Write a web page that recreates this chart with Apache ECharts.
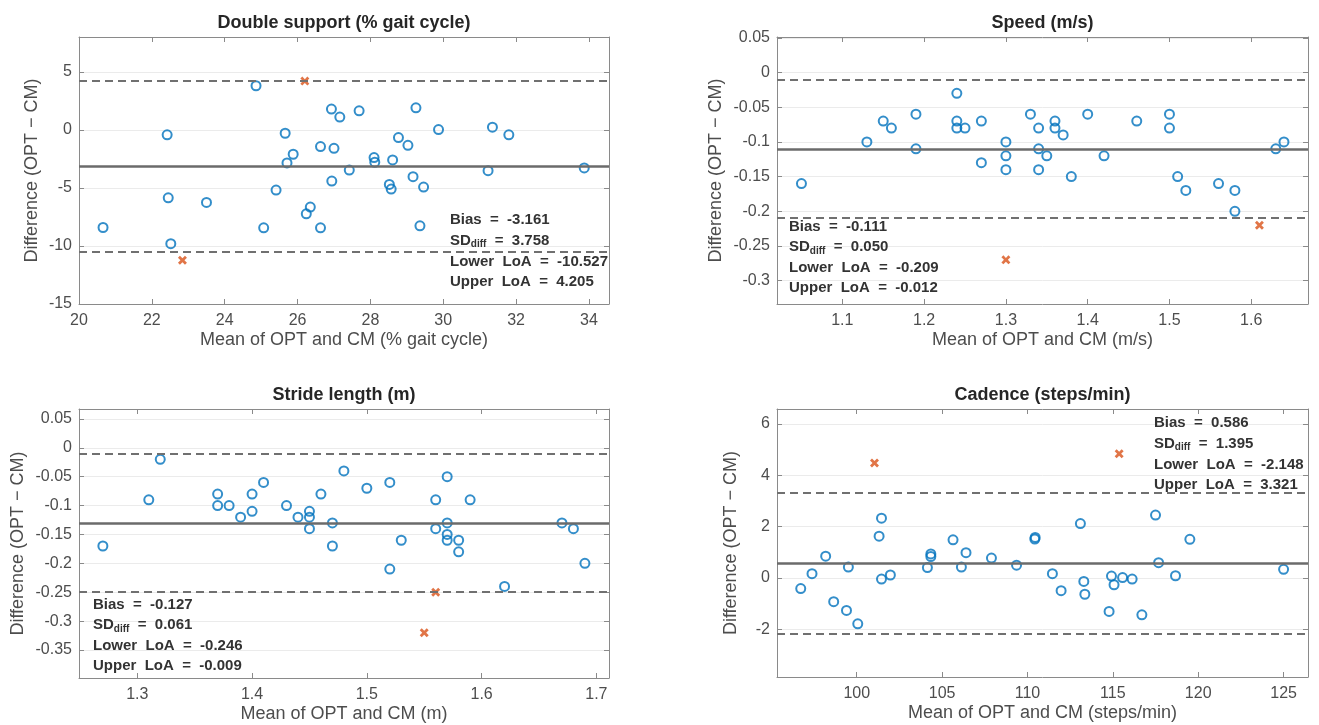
<!DOCTYPE html>
<html><head><meta charset="utf-8">
<script src="https://cdn.jsdelivr.net/npm/echarts@6/dist/echarts.min.js"></script>
<style>html,body{margin:0;padding:0;background:#fff}#c{width:1319px;height:725px}</style>
</head><body><div id="c"></div>
<script>
// ---------- Panel 1: Double support ----------
const dsX = [20.66, 22.42, 22.45, 22.52, 23.5, 24.86, 25.07, 25.41, 25.66, 25.71, 25.88, 26.24, 26.35, 26.63, 26.63, 26.93, 26.94, 27.0, 27.16, 27.42, 27.69, 28.1, 28.12, 28.52, 28.57, 28.61, 28.77, 29.03, 29.17, 29.25, 29.36, 29.46, 29.87, 31.23, 31.35, 31.8, 33.87];
const dsY = [-8.41, -0.43, -5.85, -9.8, -6.25, 3.8, -8.44, -5.19, -0.29, -2.85, -2.1, -7.23, -6.65, -1.44, -8.44, 1.79, -4.41, -1.59, 1.1, -3.46, 1.64, -2.39, -2.79, -4.7, -5.1, -2.59, -0.66, -1.33, -4.03, 1.9, -8.27, -4.93, 0.03, -3.52, 0.23, -0.43, -3.28];
const dsOutX = [22.84, 26.2];
const dsOutY = [-11.24, 4.2];
const dsStats = [-3.161, 3.758, -10.527, 4.205];
const dsXTicks = [20, 22, 24, 26, 28, 30, 32, 34];
const dsYTicks = [-15, -10, -5, 0, 5];

// ---------- Panel 2: Speed ----------
const spX = [1.05, 1.13, 1.15, 1.16, 1.19, 1.19, 1.24, 1.24, 1.24, 1.25, 1.27, 1.27, 1.30, 1.30, 1.30, 1.33, 1.34, 1.34, 1.34, 1.35, 1.36, 1.36, 1.37, 1.38, 1.40, 1.42, 1.46, 1.50, 1.50, 1.51, 1.52, 1.56, 1.58, 1.58, 1.63, 1.64];
const spY = [-0.16, -0.10, -0.07, -0.08, -0.06, -0.11, -0.03, -0.07, -0.08, -0.08, -0.07, -0.13, -0.10, -0.12, -0.14, -0.06, -0.08, -0.11, -0.14, -0.12, -0.07, -0.08, -0.09, -0.15, -0.06, -0.12, -0.07, -0.06, -0.08, -0.15, -0.17, -0.16, -0.17, -0.20, -0.11, -0.10];
const spOutX = [1.30, 1.61];
const spOutY = [-0.27, -0.22];
const spStats = [-0.111, 0.050, -0.209, -0.012];
const spXTicks = [1.1, 1.2, 1.3, 1.4, 1.5, 1.6];
const spYTicks = [-0.3, -0.25, -0.2, -0.15, -0.1, -0.05, 0, 0.05];

// ---------- Panel 3: Stride length ----------
const slX = [1.27, 1.31, 1.32, 1.37, 1.37, 1.38, 1.39, 1.40, 1.40, 1.41, 1.43, 1.44, 1.45, 1.45, 1.45, 1.46, 1.47, 1.47, 1.48, 1.50, 1.52, 1.52, 1.53, 1.56, 1.56, 1.57, 1.57, 1.57, 1.57, 1.58, 1.58, 1.59, 1.62, 1.67, 1.68, 1.69];
const slY = [-0.17, -0.09, -0.02, -0.08, -0.10, -0.10, -0.12, -0.08, -0.11, -0.06, -0.10, -0.12, -0.11, -0.12, -0.14, -0.08, -0.13, -0.17, -0.04, -0.07, -0.06, -0.21, -0.16, -0.09, -0.14, -0.05, -0.13, -0.15, -0.16, -0.16, -0.18, -0.09, -0.24, -0.13, -0.14, -0.20];
const slOutX = [1.55, 1.56];
const slOutY = [-0.32, -0.25];
const slStats = [-0.127, 0.061, -0.246, -0.009];
const slXTicks = [1.3, 1.4, 1.5, 1.6, 1.7];
const slYTicks = [-0.35, -0.3, -0.25, -0.2, -0.15, -0.1, -0.05, 0, 0.05];

// ---------- Panel 4: Cadence ----------
const cdX = [96.72, 97.38, 98.18, 98.65, 99.4, 99.51, 100.06, 101.31, 101.45, 101.45, 101.97, 104.14, 104.34, 104.34, 105.64, 106.13, 106.4, 107.89, 109.36, 110.43, 110.45, 111.46, 111.97, 113.1, 113.3, 113.36, 114.78, 114.92, 115.07, 115.57, 116.13, 116.7, 117.5, 117.68, 118.67, 119.51, 125.0];
const cdY = [-0.41, 0.17, 0.85, -0.92, -1.26, 0.43, -1.78, 1.63, 2.33, -0.04, 0.12, 0.41, 0.94, 0.84, 1.49, 0.43, 0.99, 0.78, 0.50, 1.52, 1.58, 0.17, -0.49, 2.12, -0.13, -0.63, -1.30, 0.08, -0.26, 0.02, -0.04, -1.43, 2.45, 0.60, 0.09, 1.51, 0.34];
const cdOutX = [101.04, 115.37];
const cdOutY = [4.48, 4.84];
const cdStats = [0.586, 1.395, -2.148, 3.321];
const cdXTicks = [100, 105, 110, 115, 120, 125];
const cdYTicks = [-2, 0, 2, 4, 6];

const titles = ['Double support (% gait cycle)', 'Speed (m/s)', 'Stride length (m)', 'Cadence (steps/min)'];
const xNames = ['Mean of OPT and CM (% gait cycle)', 'Mean of OPT and CM (m/s)', 'Mean of OPT and CM (m)', 'Mean of OPT and CM (steps/min)'];
const yName = 'Difference (OPT \u2212 CM)';

const FONT = '"Liberation Sans", Arial, Helvetica, sans-serif';
const panels = [
  {g:{left:79, top:37, width:530, height:267}, xr:[20, 34.55], yr:[-15, 8], xt:dsXTicks, yt:dsYTicks, x:dsX, y:dsY, ox:dsOutX, oy:dsOutY, st:dsStats, yGap:38, tTop:14, txt:{x:450, y:[221.5, 242, 263, 283.5]}},
  {g:{left:777, top:37, width:531, height:267}, xr:[1.0201, 1.6694], yr:[-0.3336, 0.0512], xt:spXTicks, yt:spYTicks, x:spX, y:spY, ox:spOutX, oy:spOutY, st:spStats, yGap:52, tTop:14, txt:{x:789, y:[228, 248.5, 269, 289.5]}},
  {g:{left:79, top:409, width:530, height:269}, xr:[1.2492, 1.711], yr:[-0.3985, 0.0672], xt:slXTicks, yt:slYTicks, x:slX, y:slY, ox:slOutX, oy:slOutY, st:slStats, yGap:52, tTop:386, txt:{x:93, y:[606, 626.5, 647.5, 667.5]}},
  {g:{left:777, top:409, width:531, height:268}, xr:[95.33, 126.43], yr:[-3.85, 6.58], xt:cdXTicks, yt:cdYTicks, x:cdX, y:cdY, ox:cdOutX, oy:cdOutY, st:cdStats, yGap:37, tTop:386, txt:{x:1154, y:[424.5, 445, 466, 486.5]}}
];

const fmt = v => String(+(+v).toFixed(4));
const TICKC = '#4d4d4d';
const BOXC = '#8a8a8a';
const XSYM = 'path://M2.2,0 L5,2.8 L7.8,0 L10,2.2 L7.2,5 L10,7.8 L7.8,10 L5,7.2 L2.2,10 L0,7.8 L2.8,5 L0,2.2 Z';

const grid = [], xAxis = [], yAxis = [], series = [], title = [], graphic = [];
panels.forEach((p, i) => {
  grid.push(Object.assign({show:false, containLabel:false, outerBoundsMode:'none'}, p.g));
  title.push({text: titles[i], left: p.g.left + p.g.width / 2, top: p.tTop, textAlign: 'center', padding: 0,
    textStyle: {fontFamily: FONT, fontSize: 18, fontWeight: 'bold', color: '#262626'}});
  const axLine = {show: true, onZero: false, lineStyle: {color: BOXC, width: 1}};
  const tick = (vals) => ({show: true, inside: true, length: 5, customValues: vals, lineStyle: {color: BOXC, width: 1}});
  // bottom x (labels)
  xAxis.push({type: 'value', gridIndex: i, position: 'bottom', min: p.xr[0], max: p.xr[1],
    axisLine: axLine, axisTick: tick(p.xt), splitLine: {show: false},
    axisLabel: {customValues: p.xt, formatter: fmt, color: TICKC, fontFamily: FONT, fontSize: 16, margin: 9},
    name: xNames[i], nameLocation: 'middle', nameGap: 27,
    nameTextStyle: {fontFamily: FONT, fontSize: 18, color: TICKC}});
  // top x (box + ticks)
  xAxis.push({type: 'value', gridIndex: i, position: 'top', min: p.xr[0], max: p.xr[1],
    axisLine: axLine, axisTick: tick(p.xt), axisLabel: {show: false}, splitLine: {show: false}});
  // left y
  yAxis.push({type: 'value', gridIndex: i, position: 'left', min: p.yr[0], max: p.yr[1],
    axisLine: axLine, axisTick: tick(p.yt),
    splitLine: {show: true, lineStyle: {color: '#ebebeb', width: 1}},
    axisLabel: {customValues: p.yt, formatter: fmt, color: TICKC, fontFamily: FONT, fontSize: 16, margin: 7},
    name: yName, nameLocation: 'middle', nameGap: p.yGap, nameRotate: 90,
    nameTextStyle: {fontFamily: FONT, fontSize: 18, color: TICKC}});
  // right y
  yAxis.push({type: 'value', gridIndex: i, position: 'right', min: p.yr[0], max: p.yr[1],
    axisLine: axLine, axisTick: tick(p.yt), axisLabel: {show: false}, splitLine: {show: false}});

  // reference lines
  series.push({type: 'scatter', xAxisIndex: 2 * i, yAxisIndex: 2 * i, data: [], z: 1, silent: true,
    markLine: {silent: true, symbol: ['none', 'none'], label: {show: false}, animation: false,
      data: [
        {yAxis: p.st[0], lineStyle: {type: 'solid', color: '#6b6b6b', width: 2.5}},
        {yAxis: p.st[2], lineStyle: {type: [8, 5], color: '#707070', width: 2}},
        {yAxis: p.st[3], lineStyle: {type: [8, 5], color: '#707070', width: 2}}
      ]}});
  // points
  series.push({type: 'scatter', xAxisIndex: 2 * i, yAxisIndex: 2 * i, z: 3, symbol: 'circle', symbolSize: 9,
    itemStyle: {color: 'rgba(0,0,0,0)', borderColor: '#0072BD', borderWidth: 2},
    data: p.x.map((v, k) => [v, p.y[k]])});
  // outliers
  series.push({type: 'scatter', xAxisIndex: 2 * i, yAxisIndex: 2 * i, z: 4, symbol: XSYM, symbolSize: 9,
    itemStyle: {color: '#D95319'},
    data: p.ox.map((v, k) => [v, p.oy[k]])});

  // stats text
  const lines = [
    {text: 'Bias  =  ' + p.st[0].toFixed(3)},
    {text: '{a|SD}{s|diff}{a|  =  ' + p.st[1].toFixed(3) + '}', rich: true},
    {text: 'Lower  LoA  =  ' + p.st[2].toFixed(3)},
    {text: 'Upper  LoA  =  ' + p.st[3].toFixed(3)}
  ];
  lines.forEach((ln, k) => {
    const style = {text: ln.text, x: 0, y: 0, font: 'bold 15px ' + FONT, fill: '#333', verticalAlign: 'middle', align: 'left'};
    if (ln.rich) {
      style.rich = {
        a: {fontFamily: FONT, fontSize: 15, fontWeight: 'bold', fill: '#333', color: '#333', lineHeight: 18},
        s: {fontFamily: FONT, fontSize: 10, fontWeight: 'bold', fill: '#333', color: '#333', lineHeight: 9, verticalAlign: 'bottom'}
      };
    }
    graphic.push({type: 'text', left: p.txt.x, top: p.txt.y[k] - 9, z: 10, style: style});
  });
});

const chart = echarts.init(document.getElementById('c'), null, {renderer: 'canvas'});
chart.setOption({animation: false, backgroundColor: '#fff', title, grid, xAxis, yAxis, series, graphic});
</script></body></html>
